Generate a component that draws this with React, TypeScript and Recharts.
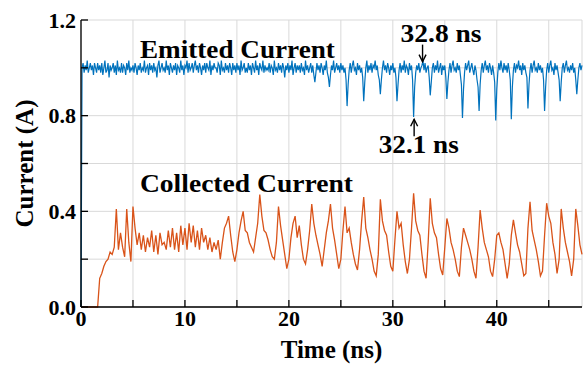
import {
  CartesianGrid,
  Line,
  LineChart,
  ReferenceDot,
  XAxis,
  YAxis,
} from "recharts";

// sampling steps (ns) of the two traces
const BLUE_STEP = 0.1;
const ORANGE_STEP = 0.2;

// Emitted current (A), one row per ns
const emittedCurrent = [
  0, 1.0, 1.02, 0.98, 1.01, 0.99, 1.03, 0.98, 1.0, 1.02,
  0.99, 1.01, 0.97, 1.02, 1.0, 0.98, 1.02, 0.99, 1.01, 0.98,
  1.02, 0.97, 1.0, 1.03, 0.98, 0.99, 1.02, 0.96, 1.01, 0.99,
  1.0, 1.02, 0.98, 1.01, 0.97, 1.03, 0.99, 1.0, 0.98, 1.02,
  0.98, 1.01, 1.0, 0.97, 1.02, 0.99, 1.03, 0.98, 1.0, 0.99,
  1.01, 0.98, 1.02, 1.0, 0.97, 1.01, 0.99, 1.02, 0.98, 1.0,
  0.99, 1.03, 0.98, 1.0, 1.01, 0.97, 1.02, 0.99, 1.01, 0.98,
  1.02, 0.99, 1.0, 0.96, 1.01, 1.03, 0.98, 1.0, 1.02, 0.99,
  1.0, 0.98, 1.03, 0.99, 1.01, 0.97, 1.02, 1.0, 0.98, 1.01,
  0.99, 1.02, 0.97, 1.01, 1.0, 0.98, 1.03, 0.99, 1.01, 0.97,
  1.01, 1.0, 1.03, 0.98, 1.02, 0.99, 1.0, 1.02, 0.98, 1.01,
  1.03, 0.99, 1.01, 0.98, 1.02, 1.0, 0.97, 1.01, 0.99, 1.02,
  0.98, 1.02, 1.0, 0.99, 1.03, 0.97, 1.01, 0.99, 1.02, 1.0,
  1.0, 0.98, 1.02, 1.01, 0.97, 1.03, 0.99, 1.0, 0.98, 1.02,
  0.99, 1.01, 0.98, 1.02, 1.0, 0.97, 1.02, 0.99, 1.01, 0.98,
  1.02, 0.99, 1.01, 0.97, 1.03, 0.99, 1.0, 1.02, 0.98, 1.0,
  0.98, 1.02, 0.99, 1.01, 0.97, 1.02, 1.0, 0.98, 1.03, 0.99,
  1.01, 0.97, 1.02, 1.0, 0.99, 1.03, 0.98, 1.01, 0.99, 1.0,
  0.99, 1.02, 0.98, 1.01, 1.0, 0.97, 1.03, 0.99, 1.0, 0.98,
  1.02, 0.99, 1.01, 0.98, 1.02, 1.0, 0.96, 1.01, 0.99, 1.02,
  0.98, 1.01, 0.99, 1.03, 0.97, 1.0, 1.02, 0.98, 1.01, 0.99,
  1.01, 0.98, 1.02, 0.99, 1.0, 0.97, 1.03, 0.99, 1.01, 0.98,
  1.0, 1.02, 0.98, 1.01, 0.97, 0.94, 0.98, 1.02, 0.99, 1.01,
  0.98, 1.02, 1.0, 0.97, 1.01, 0.99, 1.03, 0.98, 0.96, 0.92,
  0.97, 1.01, 0.99, 1.03, 0.98, 1.0, 1.02, 0.99, 1.01, 0.98,
  1.02, 0.99, 1.01, 0.98, 1.0, 0.95, 0.84, 0.93, 0.99, 1.02,
  0.98, 1.01, 1.03, 0.99, 1.0, 0.97, 1.02, 0.99, 1.01, 0.98,
  1.0, 0.96, 0.86, 0.94, 1.0, 1.03, 0.98, 1.01, 0.99, 1.02,
  0.98, 1.01, 1.0, 1.03, 0.99, 1.01, 0.97, 0.95, 0.89, 0.95,
  1.0, 1.03, 0.99, 1.01, 0.98, 1.02, 1.0, 0.97, 1.01, 0.99,
  1.02, 0.98, 1.0, 0.96, 0.86, 0.93, 0.99, 1.02, 0.98, 1.01,
  0.99, 1.03, 0.98, 1.01, 1.0, 0.97, 1.02, 0.99, 1.01, 0.95,
  0.795, 0.92, 0.98, 1.01, 0.99, 1.02, 0.98, 1.0, 1.01, 1.03,
  0.99, 1.02, 0.98, 1.0, 1.01, 0.96, 0.885, 0.94, 1.0, 1.02,
  0.98, 1.01, 0.99, 1.03, 0.98, 1.0, 1.02, 0.97, 1.01, 0.99,
  1.01, 0.96, 0.87, 0.94, 0.99, 1.02, 0.98, 1.01, 1.03, 0.99,
  1.0, 0.98, 1.02, 0.99, 1.01, 0.97, 0.93, 0.79, 0.91, 0.98,
  1.02, 0.99, 1.01, 1.03, 0.98, 1.0, 1.02, 0.99, 0.97, 1.01,
  0.99, 0.95, 0.92, 0.82, 0.93, 0.99, 1.02, 0.98, 1.01, 1.03,
  0.99, 1.01, 0.98, 1.02, 1.0, 0.97, 1.01, 0.98, 0.94, 0.78,
  0.91, 0.98, 1.02, 0.99, 1.03, 1.0, 0.98, 1.02, 0.99, 1.01,
  0.98, 1.02, 0.99, 0.95, 0.785, 0.92, 0.99, 1.02, 0.98, 1.01,
  1.0, 1.03, 0.99, 1.01, 0.97, 1.02, 0.99, 1.01, 0.98, 0.96,
  0.83, 0.93, 0.99, 1.02, 0.98, 1.01, 1.03, 0.99, 1.0, 0.98,
  1.02, 0.99, 1.01, 0.98, 1.0, 0.95, 0.82, 0.92, 0.99, 1.02,
  0.98, 1.01, 1.03, 0.99, 1.0, 0.97, 1.02, 0.99, 1.01, 0.98,
  0.95, 0.86, 0.94, 1.0, 1.02, 0.98, 1.01, 1.03, 0.99, 1.0,
  0.98, 1.01, 0.99, 1.02, 0.98, 1.0, 0.95, 0.89, 0.95, 1.0,
  1.02, 0.99, 1.01,
];

// Collected current (A), 5 samples per ns
const collectedCurrent = [
  0, 0, 0, 0, 0,
  0, 0, 0, 0, 0.12,
  0.14, 0.17, 0.19, 0.2, 0.23,
  0.22, 0.25, 0.41, 0.24, 0.31,
  0.25, 0.21, 0.41, 0.27, 0.19,
  0.42, 0.33, 0.26, 0.31, 0.24,
  0.3, 0.23, 0.29, 0.25, 0.32,
  0.23, 0.3, 0.22, 0.31, 0.26,
  0.27, 0.24, 0.32, 0.25, 0.33,
  0.24, 0.31, 0.23, 0.34, 0.26,
  0.33, 0.24, 0.35, 0.27, 0.34,
  0.25, 0.32, 0.24, 0.33, 0.27,
  0.3, 0.24, 0.29, 0.23, 0.27,
  0.24, 0.28, 0.2, 0.27, 0.33,
  0.35, 0.38, 0.3, 0.23, 0.19,
  0.24, 0.31, 0.36, 0.4, 0.32,
  0.31, 0.27, 0.25, 0.23, 0.29,
  0.35, 0.47, 0.38, 0.32, 0.31,
  0.28, 0.24, 0.21, 0.2, 0.27,
  0.42, 0.34, 0.28, 0.22, 0.16,
  0.2, 0.29, 0.35, 0.38, 0.29,
  0.34, 0.26, 0.2, 0.18, 0.24,
  0.32, 0.43, 0.35, 0.3, 0.26,
  0.22, 0.17, 0.24, 0.31, 0.36,
  0.43, 0.33, 0.28, 0.22, 0.16,
  0.2, 0.32, 0.42, 0.31, 0.33,
  0.27, 0.22, 0.18, 0.155, 0.24,
  0.36, 0.46, 0.33, 0.29, 0.24,
  0.2, 0.15, 0.13, 0.22, 0.45,
  0.36, 0.32, 0.3, 0.23, 0.17,
  0.15, 0.28, 0.4, 0.33, 0.35,
  0.26, 0.19, 0.14, 0.2, 0.33,
  0.475, 0.36, 0.32, 0.3, 0.22,
  0.15, 0.12, 0.27, 0.455, 0.35,
  0.31, 0.29, 0.22, 0.16, 0.134,
  0.25, 0.37, 0.33, 0.27, 0.24,
  0.2, 0.15, 0.127, 0.25, 0.33,
  0.3, 0.27, 0.24, 0.2, 0.15,
  0.12, 0.25, 0.405, 0.33, 0.27,
  0.24, 0.21, 0.15, 0.127, 0.2,
  0.3, 0.31, 0.27, 0.24, 0.18,
  0.12, 0.18, 0.3, 0.364, 0.31,
  0.26, 0.23, 0.18, 0.13, 0.14,
  0.33, 0.44, 0.32, 0.28, 0.24,
  0.19, 0.13, 0.15, 0.3, 0.434,
  0.38, 0.35, 0.27, 0.22, 0.14,
  0.2, 0.41, 0.33, 0.27, 0.23,
  0.19, 0.13, 0.2, 0.41, 0.34,
  0.26, 0.22,
];

const xTicks = [0, 5, 10, 15, 20, 25, 30, 35, 40, 45];
const yTicks = [0, 0.2, 0.4, 0.6, 0.8, 1.0, 1.2];
const xDomain = [0, 48.2];
const yDomain = [0, 1.2];

const emittedData = emittedCurrent.map((v, i) => ({
  t: +(i * BLUE_STEP).toFixed(2),
  v,
}));
const collectedData = collectedCurrent.map((v, i) => ({
  t: +(i * ORANGE_STEP).toFixed(2),
  v,
}));

const FONT = "Liberation Serif";
const tickStyle = { fill: "#000", fontSize: 22, fontWeight: 700, fontFamily: FONT };
const BLUE = "#0072BD";
const ORANGE = "#D95319";

function xLabel(v: number) {
  return v % 10 === 0 ? String(v) : "";
}

function yLabel(v: number) {
  return Math.round(v * 10) % 4 === 0 ? v.toFixed(1) : "";
}

function blank() {
  return "";
}

function textShape(text: string, size: number, width: number) {
  return (p: any) => (
    <text
      x={p.cx}
      y={p.cy}
      style={{ fontFamily: FONT, fontWeight: 700, fontSize: size }}
      fill="#000"
      textLength={width}
      lengthAdjust="spacingAndGlyphs"
    >
      {text}
    </text>
  );
}

// arrow drawn from its tip; dir 1 points down, -1 points up
function arrowShape(dir: number) {
  return (p: any) => {
    const { cx, cy } = p;
    const tail = cy - dir * 17;
    const head = cy - dir * 7;
    return (
      <g stroke="#000" strokeWidth={1.4} fill="none">
        <line x1={cx} y1={tail} x2={cx} y2={cy} />
        <path d={`M${cx - 3.5},${head} L${cx},${cy} L${cx + 3.5},${head}`} />
      </g>
    );
  };
}

export default function App() {
  return (
    <div style={{ width: 583, height: 369, background: "#fff" }}>
      <style>{"body{margin:0}"}</style>
      <LineChart
        width={583}
        height={369}
        margin={{ top: 20, right: 1, bottom: 0, left: 0 }}
      >
        <CartesianGrid stroke="#d9d9d9" strokeWidth={1} />
        <XAxis
          dataKey="t"
          type="number"
          domain={xDomain}
          ticks={xTicks}
          tickFormatter={xLabel}
          tick={tickStyle}
          tickSize={-7}
          tickMargin={10}
          height={62}
          stroke="#000"
          strokeWidth={1.3}
          label={{
            value: "Time (ns)",
            position: "insideBottom",
            offset: 11,
            style: { fill: "#000", fontSize: 25, fontWeight: 700, fontFamily: FONT },
          }}
        />
        <XAxis
          xAxisId="top"
          orientation="top"
          dataKey="t"
          type="number"
          domain={xDomain}
          ticks={xTicks}
          tickFormatter={blank}
          tickSize={-7}
          height={0}
          stroke="#000"
          strokeWidth={1.3}
        />
        <YAxis
          type="number"
          domain={yDomain}
          ticks={yTicks}
          tickFormatter={yLabel}
          tick={tickStyle}
          tickSize={-7}
          tickMargin={12}
          width={81}
          stroke="#000"
          strokeWidth={1.3}
          label={{
            value: "Current (A)",
            angle: -90,
            position: "insideLeft",
            offset: 24,
            style: {
              fill: "#000",
              fontSize: 25,
              fontWeight: 700,
              fontFamily: FONT,
              textAnchor: "middle",
            },
          }}
        />
        <YAxis
          yAxisId="right"
          orientation="right"
          type="number"
          domain={yDomain}
          ticks={yTicks}
          tickFormatter={blank}
          tickSize={-7}
          width={0}
          stroke="#000"
          strokeWidth={1.3}
        />
        <Line
          data={collectedData}
          dataKey="v"
          type="linear"
          stroke={ORANGE}
          strokeWidth={1.3}
          dot={false}
          activeDot={false}
          isAnimationActive={false}
        />
        <Line
          data={emittedData}
          dataKey="v"
          type="linear"
          stroke={BLUE}
          strokeWidth={1.2}
          dot={false}
          activeDot={false}
          isAnimationActive={false}
        />
        <ReferenceDot x={5.67} y={1.04} r={0} shape={textShape("Emitted Current", 26, 195)} />
        <ReferenceDot x={5.67} y={0.482} r={0} shape={textShape("Collected Current", 26, 213)} />
        <ReferenceDot x={30.74} y={1.11} r={0} shape={textShape("32.8 ns", 25, 81)} />
        <ReferenceDot x={28.65} y={0.643} r={0} shape={textShape("32.1 ns", 25, 80)} />
        <ReferenceDot x={32.86} y={1.026} r={0} shape={arrowShape(1)} />
        <ReferenceDot x={32.05} y={0.785} r={0} shape={arrowShape(-1)} />
      </LineChart>
    </div>
  );
}
